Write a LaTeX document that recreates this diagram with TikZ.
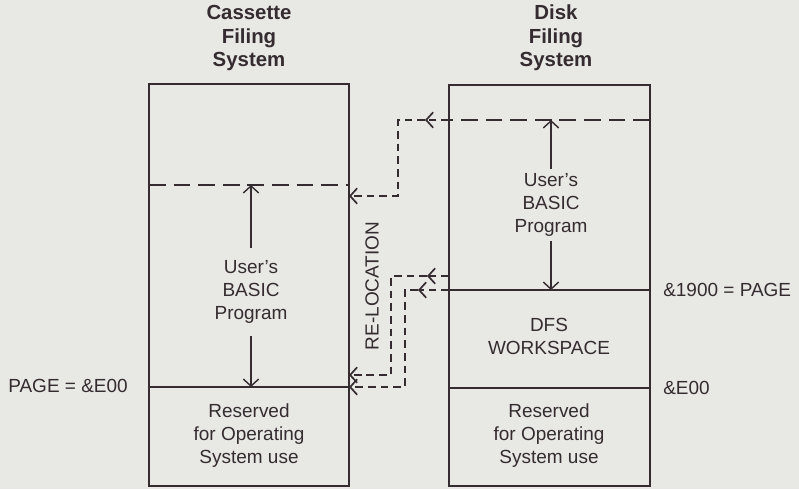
\documentclass[tikz,border=0pt]{standalone}
\usepackage{fontspec}
\setmainfont{Liberation Sans}
\usetikzlibrary{arrows.meta}

\definecolor{paper}{RGB}{232,232,229}
\definecolor{ink}{RGB}{52,44,48}

\tikzset{
  memline/.style={draw=ink, line width=1.6pt},
  topline/.style={draw=ink, line width=1.3pt, dash pattern=on 12pt off 5.5pt},
  relo/.style={draw=ink, line width=1.2pt, dash pattern=on 5.5pt off 3.5pt, ->},
  ptr/.style={draw=ink, line width=1pt, ->},
  lbl/.style={text=ink, font=\fontsize{13.5}{16.4}\selectfont, align=center, inner sep=0pt},
  ttl/.style={lbl, font=\bfseries\fontsize{14.5}{16.8}\selectfont},
}

\begin{document}
\begin{tikzpicture}[x=0.25mm, y=-0.25mm, >={Straight Barb[length=5pt,width=11pt]}]
	\fill[paper] (0,0) rectangle (799,489);

	% cassette filing system
	\node[ttl] (castitle) at (249,38) {Cassette\\Filing\\System};
	\draw[memline] (149,84) rectangle (349,486);
	\draw[memline] (149,387) -- (349,387);
	\draw[topline] (149,185) -- (349,185);
	\node[lbl, inner ysep=9pt] (cprog) at (251,292) {User's\\BASIC\\Program};
	\node[lbl] (cres) at (249,436) {Reserved\\for Operating\\System use};
	\coordinate (ctop) at (251,185);
	\coordinate (cpage) at (251,387);
	\draw[ptr] (cprog) -- (ctop);
	\draw[ptr] (cprog) -- (cpage);
	\node[lbl, anchor=east] (cpagelbl) at (128,386) {PAGE = \&E00};

	% disk filing system
	\node[ttl] (dsktitle) at (556,38) {Disk\\Filing\\System};
	\draw[memline] (449,85) rectangle (650,486);
	\draw[memline] (449,290) -- (650,290);
	\draw[memline] (449,388) -- (650,388);
	\draw[topline] (650,120) -- (449,120);
	\node[lbl, inner ysep=3pt] (dprog) at (551,205) {User's\\BASIC\\Program};
	\node[lbl] (dws) at (549,336) {DFS\\WORKSPACE};
	\node[lbl] (dres) at (549,436) {Reserved\\for Operating\\System use};
	\coordinate (dtop) at (551,120);
	\coordinate (dpage) at (551,290);
	\draw[ptr] (dprog) -- (dtop);
	\draw[ptr] (dprog) -- (dpage);
	\node[lbl, anchor=west] (dpagelbl) at (663,290) {\&1900 = PAGE};
	\node[lbl, anchor=west] (de00) at (663,388) {\&E00};

	% re-location
	\coordinate (r1) at (449,120);
	\coordinate (m1) at (425,120);
	\coordinate (l1) at (349,196);
	\draw[relo] (r1) -- (m1);
	\draw[relo] (m1) -- (398,120) |- (l1);

	\coordinate (r2) at (449,276);
	\coordinate (m2) at (427,276);
	\coordinate (l2) at (349,375);
	\draw[relo] (r2) -- (m2);
	\draw[relo] (m2) -- (391,276) |- (l2);

	\coordinate (r3) at (449,290);
	\coordinate (m3) at (418,290);
	\coordinate (l3) at (349,387);
	\draw[relo] (r3) -- (m3);
	\draw[relo] (m3) -- (405,290) |- (l3);

	\node[lbl, rotate=90] (reloc) at (372,286) {RE-LOCATION};
\end{tikzpicture}
\end{document}
